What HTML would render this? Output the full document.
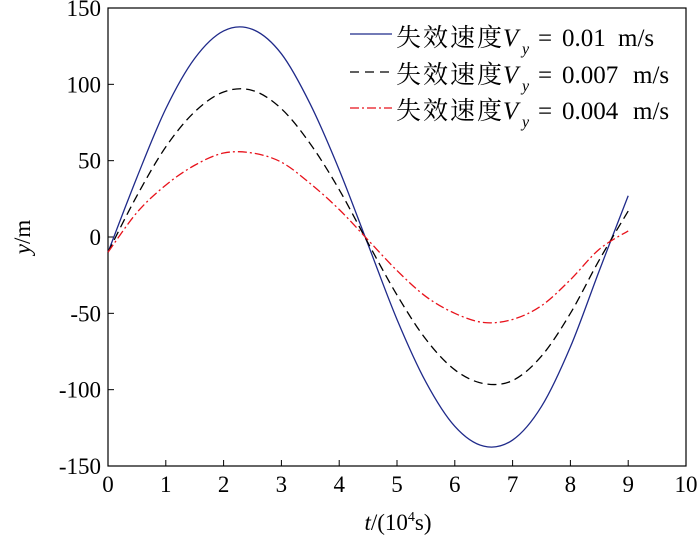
<!DOCTYPE html>
<html><head><meta charset="utf-8">
<style>
html,body{margin:0;padding:0;background:#fff;}
svg{display:block;font-family:"Liberation Serif","Noto Serif CJK SC",serif;}
</style></head>
<body>
<svg id="chart" width="700" height="538" viewBox="0 0 700 538">
  <rect x="108" y="8" width="578" height="458" fill="none" stroke="#000" stroke-width="1.2"/>
  <g id="ticks"></g>
  <g id="series"></g>
  <text x="398" y="530" font-size="23" text-anchor="middle"><tspan font-style="italic">t</tspan>/(10<tspan font-size="14" dy="-9">4</tspan><tspan dy="9">s)</tspan></text>
  <text transform="translate(30,237) rotate(-90)" font-size="23" text-anchor="middle"><tspan font-style="italic">y</tspan>/m</text>
  <g font-size="25">
    <g>
      <line x1="350" y1="34" x2="392" y2="34" stroke="#1f2a8a" stroke-width="1.3"/>
      <text y="46"><tspan x="396" textLength="106" lengthAdjust="spacing">失效速度</tspan><tspan x="503" font-style="italic">V</tspan><tspan x="522" font-style="italic" font-size="16" dy="8">y</tspan><tspan x="538" dy="-8">=</tspan><tspan x="562">0.01</tspan><tspan x="618">m/s</tspan></text>
    </g>
    <g>
      <line x1="350" y1="72" x2="392" y2="72" stroke="#000" stroke-width="1.3" stroke-dasharray="9,6"/>
      <text y="83"><tspan x="396" textLength="106" lengthAdjust="spacing">失效速度</tspan><tspan x="503" font-style="italic">V</tspan><tspan x="522" font-style="italic" font-size="16" dy="8">y</tspan><tspan x="538" dy="-8">=</tspan><tspan x="562">0.007</tspan><tspan x="633">m/s</tspan></text>
    </g>
    <g>
      <line x1="350" y1="108" x2="392" y2="108" stroke="#e8121b" stroke-width="1.3" stroke-dasharray="9,3,2,3"/>
      <text y="119"><tspan x="396" textLength="106" lengthAdjust="spacing">失效速度</tspan><tspan x="503" font-style="italic">V</tspan><tspan x="522" font-style="italic" font-size="16" dy="8">y</tspan><tspan x="538" dy="-8">=</tspan><tspan x="562">0.004</tspan><tspan x="633">m/s</tspan></text>
    </g>
  </g>
</svg>
<script>
const xTicks = [0,1,2,3,4,5,6,7,8,9,10];
const yTicks = [150,100,50,0,-50,-100,-150];
const tSamples = [0,0.5,1,1.5,2,2.5,3,3.5,4,4.5,5,5.5,6,6.5,7,7.5,8,8.5,9];
const vBlue  = [-10,39,84,117,135,136,120,87,44,-5,-54,-95,-124,-137,-133,-111,-72,-22,27];
const vBlack = [-10,27,59,82,95,96,84,61,31,-4,-38,-67,-87,-96,-94,-78,-50,-15,17];
const vRed   = [-10,16,34,47,55,55,49,35,18,-2,-22,-39,-50,-56,-54,-45,-28,-8,4];

const X0=108,X1=686,Y0=8,Y1=466;
function xs(t){return X0+(t-0)/(10-0)*(X1-X0);}
function ys(v){return Y1-(v+150)/300*(Y1-Y0);}
const NS="http://www.w3.org/2000/svg";
const tg=document.getElementById('ticks');
xTicks.forEach(t=>{
  const l=document.createElementNS(NS,'line');
  l.setAttribute('x1',xs(t));l.setAttribute('x2',xs(t));l.setAttribute('y1',Y1);l.setAttribute('y2',Y1-6);
  l.setAttribute('stroke','#000');
  
  
  tg.appendChild(l);
  const tx=document.createElementNS(NS,'text');
  tx.setAttribute('x',xs(t));tx.setAttribute('y',Y1+26);tx.setAttribute('font-size','23');tx.setAttribute('text-anchor','middle');
  tx.textContent=t;
  
  
  tg.appendChild(tx);
});
yTicks.forEach(v=>{
  const l=document.createElementNS(NS,'line');
  l.setAttribute('x1',X0);l.setAttribute('x2',X0+6);l.setAttribute('y1',ys(v));l.setAttribute('y2',ys(v));
  l.setAttribute('stroke','#000');
  
  
  tg.appendChild(l);
  const tx=document.createElementNS(NS,'text');
  tx.setAttribute('x',X0-7);tx.setAttribute('y',ys(v)+8);tx.setAttribute('font-size','23');tx.setAttribute('text-anchor','end');
  tx.textContent=v;
  
  
  tg.appendChild(tx);
});
function pathFor(ts,vs){
  const p=ts.map((t,i)=>[xs(t),ys(vs[i])]);
  let d='M'+p[0][0]+','+p[0][1];
  for(let i=0;i<p.length-1;i++){
    const a=p[i-1]||p[i],b=p[i],c=p[i+1],e=p[i+2]||c;
    const c1=[b[0]+(c[0]-a[0])/6,b[1]+(c[1]-a[1])/6];
    const c2=[c[0]-(e[0]-b[0])/6,c[1]-(e[1]-b[1])/6];
    d+=' C'+c1+' '+c2+' '+c;
  }
  return d;
}
const sg=document.getElementById('series');
[[tSamples,vBlue,'#1f2a8a','','series-v001'],[tSamples,vBlack,'#000','9,5','series-v0007'],[tSamples,vRed,'#e8121b','9,3,2,3','series-v0004']].forEach(s=>{
  const p=document.createElementNS(NS,'path');
  p.setAttribute('d',pathFor(s[0],s[1]));
  p.setAttribute('fill','none');p.setAttribute('stroke',s[2]);p.setAttribute('stroke-width','1.3');
  if(s[3])p.setAttribute('stroke-dasharray',s[3]);
  
  
  sg.appendChild(p);
});
</script>
</body></html>
